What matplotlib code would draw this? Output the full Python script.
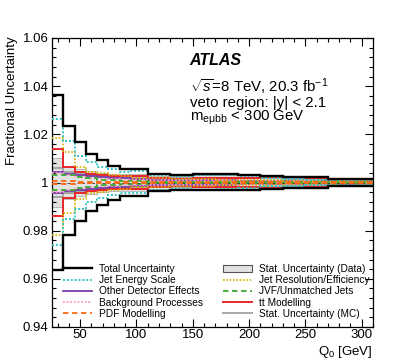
import numpy as np
import matplotlib
matplotlib.use('Agg')
import matplotlib.pyplot as plt
from matplotlib.lines import Line2D
from matplotlib.patches import Patch
from matplotlib.ticker import MultipleLocator, FuncFormatter

plt.rcParams['font.family'] = ['Liberation Sans', 'DejaVu Sans']
plt.rcParams['mathtext.fontset'] = 'custom'
plt.rcParams['mathtext.rm'] = 'Liberation Sans'
plt.rcParams['mathtext.it'] = 'Liberation Sans:italic'

# bin edges of Q0 [GeV]
edges = [25, 35, 45, 55, 65, 75, 85, 95, 110, 130, 150, 170, 190, 210, 230, 250, 270, 310]

# relative uncertainties per bin
total_up = [0.0363, 0.0235, 0.0170, 0.0120, 0.0092, 0.0068, 0.0058, 0.0058, 0.0034, 0.0032,
            0.0036, 0.0034, 0.0032, 0.0027, 0.0024, 0.0022, 0.0015]
total_dn = [0.0362, 0.0220, 0.0160, 0.0120, 0.0093, 0.0072, 0.0058, 0.0058, 0.0034, 0.0032,
            0.0033, 0.0032, 0.0031, 0.0025, 0.0024, 0.0023, 0.0015]
stat_data = [0.0100, 0.0068, 0.0054, 0.0046, 0.0041, 0.0037, 0.0035, 0.0035, 0.0029, 0.0029,
             0.0032, 0.0031, 0.0030, 0.0026, 0.0023, 0.0021, 0.0014]
jes_up = [0.0265, 0.0172, 0.0112, 0.0085, 0.0066, 0.0055, 0.0045, 0.0048, 0.0030, 0.0028,
          0.0033, 0.0030, 0.0025, 0.0018, 0.0015, 0.0012, 0.0010]
jes_dn = [0.0260, 0.0150, 0.0110, 0.0080, 0.0066, 0.0052, 0.0045, 0.0045, 0.0030, 0.0028,
          0.0030, 0.0028, 0.0022, 0.0016, 0.0014, 0.0011, 0.0009]
jer_up = [0.0186, 0.0125, 0.0065, 0.0045, 0.0040, 0.0030, 0.0025, 0.0020, 0.0018, 0.0015,
          0.0014, 0.0012, 0.0010, 0.0010, 0.0008, 0.0008, 0.0006]
jer_dn = [0.0220, 0.0125, 0.0070, 0.0045, 0.0038, 0.0030, 0.0025, 0.0020, 0.0018, 0.0015,
          0.0014, 0.0012, 0.0010, 0.0010, 0.0008, 0.0008, 0.0006]
ttbar = [0.0140, 0.0064, 0.0045, 0.0035, 0.0030, 0.0025, 0.0025, 0.0028, 0.0018, 0.0015,
         0.0018, 0.0020, 0.0020, 0.0022, 0.0022, 0.0020, 0.0008]
other_det = [0.0042, 0.0036, 0.0030, 0.0026, 0.0024, 0.0020, 0.0018, 0.0016, 0.0012, 0.0010,
             0.0010, 0.0009, 0.0008, 0.0008, 0.0007, 0.0006, 0.0005]
bkg = [0.0040, 0.0030, 0.0022, 0.0018, 0.0016, 0.0014, 0.0012, 0.0012, 0.0010, 0.0010,
       0.0010, 0.0009, 0.0008, 0.0008, 0.0007, 0.0006, 0.0005]
jvf = [0.0030, 0.0030, 0.0022, 0.0018, 0.0012, 0.0010, 0.0008, 0.0006, 0.0004, 0.0004,
       0.0003, 0.0003, 0.0003, 0.0002, 0.0002, 0.0002, 0.0002]
pdf = [0.0006, 0.0005, 0.0004, 0.0004, 0.0004, 0.0003, 0.0003, 0.0003, 0.0003, 0.0003,
       0.0003, 0.0003, 0.0003, 0.0003, 0.0003, 0.0003, 0.0003]
stat_mc = [0.0060, 0.0042, 0.0035, 0.0030, 0.0026, 0.0024, 0.0022, 0.0022, 0.0018, 0.0018,
           0.0020, 0.0020, 0.0020, 0.0018, 0.0016, 0.0015, 0.0012]

W, H = 415, 363
fig = plt.figure(figsize=(W / 100, H / 100), dpi=100)
ax = fig.add_axes([52 / W, 1 - 327 / H, (373 - 52) / W, (327 - 38) / H])

e = np.array(edges)
sd = np.array(stat_data)
ax.stairs(1 + sd, e, baseline=1 - sd, fill=True, color='#e2e2e2', lw=0, zorder=1)
ax.stairs(1 + sd, e, baseline=None, color='#bbbbbb', lw=0.8, zorder=1.5)
ax.stairs(1 - sd, e, baseline=None, color='#bbbbbb', lw=0.8, zorder=1.5)


def band(up, dn, **kw):
    ax.stairs(1 + np.array(up), e, baseline=None, **kw)
    ax.stairs(1 - np.array(dn), e, baseline=None, **kw)


c_jes = '#33c4c4'
c_oth = '#7a3ba8'
c_bkg = '#ff99cc'
c_pdf = '#ff6a13'
c_jer = '#d9b300'
c_jvf = '#3aab2e'
c_tt = '#e8262a'
c_mc = '#a0a0a0'

band(stat_mc, stat_mc, color=c_mc, lw=1.3, zorder=2)
band(ttbar, ttbar, color=c_tt, lw=1.4, zorder=3)
band(other_det, other_det, color=c_oth, lw=1.3, zorder=3)
band(bkg, bkg, color=c_bkg, lw=1.3, ls=(0, (1, 1)), zorder=3)
band(jvf, jvf, color=c_jvf, lw=1.3, ls=(0, (3, 2)), zorder=3)
band(jer_up, jer_dn, color=c_jer, lw=1.2, ls=(0, (1, 1)), zorder=3)
band(jes_up, jes_dn, color=c_jes, lw=1.4, ls=(0, (1, 1)), zorder=3)
band(pdf, pdf, color=c_pdf, lw=1.3, ls=(0, (3, 2)), zorder=3.5)
ax.axhline(1, color='#333333', lw=0.6, ls=(0, (3, 3)), zorder=3.4)
band(total_up, total_dn, color='black', lw=1.7, zorder=4)

ax.set_xlim(25, 310)
ax.set_ylim(0.94, 1.06)
ax.xaxis.set_major_locator(MultipleLocator(50))
ax.xaxis.set_minor_locator(MultipleLocator(10))
ax.yaxis.set_major_locator(MultipleLocator(0.02))
ax.yaxis.set_minor_locator(MultipleLocator(0.004))
ax.yaxis.set_major_formatter(FuncFormatter(lambda v, p: '%g' % round(v, 4)))
ax.tick_params(which='both', direction='in', top=True, right=True, labelsize=9.5)
ax.tick_params(which='major', length=6, width=0.8)
ax.tick_params(which='minor', length=3, width=0.8)
ax.tick_params(axis='x', pad=1.5)
ax.tick_params(axis='y', pad=2.5)
for s in ax.spines.values():
    s.set_linewidth(0.9)

fig.text(12 / W, 1 - 36 / H, 'Fractional Uncertainty', rotation=90, ha='center', va='top', fontsize=9.5)
fig.text(373 / W, 1 - 355 / H, 'Q$_0$ [GeV]', ha='right', va='baseline', fontsize=9.5)

fig.text(189 / W, 1 - 65 / H, 'ATLAS', fontsize=11.5, weight='bold', style='italic')
fig.text(190 / W, 1 - 92 / H, r'$\sqrt{s}$=8 TeV, 20.3 fb$^{-1}$', fontsize=10.8)
fig.text(190 / W, 1 - 107 / H, 'veto region: |y| < 2.1', fontsize=10.8)
fig.text(190 / W, 1 - 121 / H, r'm$_{\mathrm{e\mu bb}}$ < 300 GeV', fontsize=10.8)

left_h = [Line2D([], [], color='black', lw=1.7),
          Line2D([], [], color=c_jes, lw=1.4, ls=(0, (1, 1))),
          Line2D([], [], color=c_oth, lw=1.3),
          Line2D([], [], color=c_bkg, lw=1.3, ls=(0, (1, 1))),
          Line2D([], [], color=c_pdf, lw=1.3, ls=(0, (3, 2)))]
left_l = ['Total Uncertainty', 'Jet Energy Scale', 'Other Detector Effects',
          'Background Processes', 'PDF Modelling']
right_h = [Patch(facecolor='#e2e2e2', edgecolor='#555555', lw=0.8),
           Line2D([], [], color=c_jer, lw=1.2, ls=(0, (1, 1))),
           Line2D([], [], color=c_jvf, lw=1.3, ls=(0, (3, 2))),
           Line2D([], [], color=c_tt, lw=1.4),
           Line2D([], [], color=c_mc, lw=1.3)]
right_l = ['Stat. Uncertainty (Data)', 'Jet Resolution/Efficiency', 'JVF/Unmatched Jets',
           'tt Modelling', 'Stat. Uncertainty (MC)']

kw = dict(frameon=False, fontsize=7.3, handlelength=2.9, handletextpad=0.65,
          labelspacing=0.12, borderpad=0, borderaxespad=0, loc='upper left')
lg1 = fig.legend(left_h, left_l, bbox_to_anchor=(63 / W, 1 - 264 / H), **kw)
lg2 = fig.legend(right_h, right_l, bbox_to_anchor=(223 / W, 1 - 264 / H), **kw)

fig.savefig('out.png', dpi=100)
